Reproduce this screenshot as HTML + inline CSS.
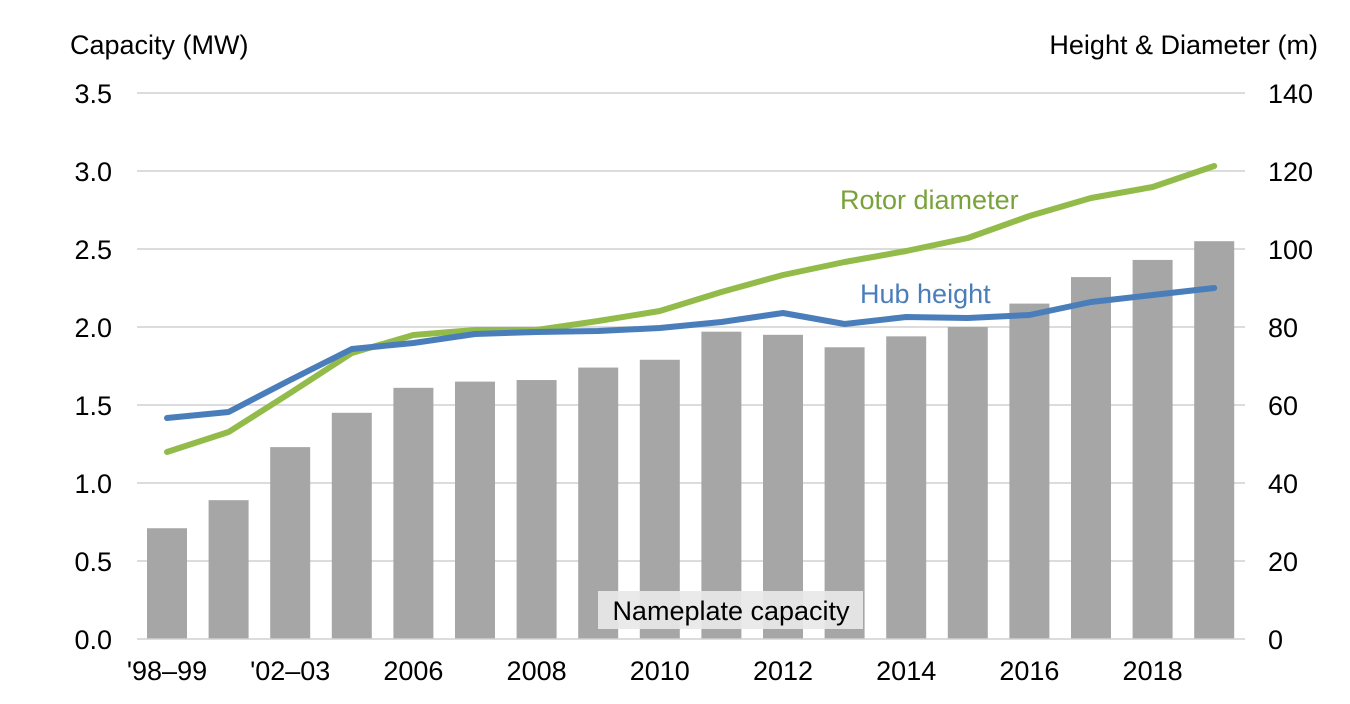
<!DOCTYPE html>
<html><head><meta charset="utf-8"><style>body{margin:0;background:#fff}svg{display:block}text{font-family:"Liberation Sans",Arial,sans-serif}</style></head>
<body>
<svg width="1350" height="704" xmlns="http://www.w3.org/2000/svg">
<g stroke="#d0d0d0" stroke-width="1.5">
<line x1="137" x2="1245" y1="93" y2="93"/><line x1="137" x2="1245" y1="171" y2="171"/><line x1="137" x2="1245" y1="249" y2="249"/><line x1="137" x2="1245" y1="327" y2="327"/><line x1="137" x2="1245" y1="405" y2="405"/><line x1="137" x2="1245" y1="483" y2="483"/><line x1="137" x2="1245" y1="561" y2="561"/>
</g>
<g fill="#a6a6a6" id="bars"></g>
<line x1="137" x2="1245" y1="639" y2="639" stroke="#d0d0d0" stroke-width="1.5"/>
<rect x="598" y="591" width="265" height="38" fill="#e8e8e8" opacity="0.92"/>
<text x="731" y="620" font-size="27" text-anchor="middle" fill="#000">Nameplate capacity</text>
<polyline id="rotor" fill="none" stroke="#92bb4a" stroke-width="6" stroke-linejoin="round" stroke-linecap="round"/>
<polyline id="hub" fill="none" stroke="#4a7ebb" stroke-width="6" stroke-linejoin="round" stroke-linecap="round"/>
<text x="840" y="209" font-size="27" fill="#79a23a">Rotor diameter</text>
<text x="860" y="303" font-size="27" fill="#4a7ebb">Hub height</text>
<g font-size="27" fill="#000" text-anchor="end">
<text x="112" y="103">3.5</text><text x="112" y="181">3.0</text><text x="112" y="259">2.5</text><text x="112" y="337">2.0</text><text x="112" y="415">1.5</text><text x="112" y="493">1.0</text><text x="112" y="571">0.5</text><text x="112" y="649">0.0</text>
</g>
<g font-size="27" fill="#000" text-anchor="start">
<text x="1268" y="103">140</text><text x="1268" y="181">120</text><text x="1268" y="259">100</text><text x="1268" y="337">80</text><text x="1268" y="415">60</text><text x="1268" y="493">40</text><text x="1268" y="571">20</text><text x="1268" y="649">0</text>
</g>
<text x="70" y="54" font-size="27">Capacity (MW)</text>
<text x="1318" y="54" font-size="27" text-anchor="end">Height &amp; Diameter (m)</text>
<g font-size="27" text-anchor="middle" id="xl"></g>
</svg>
<script>
var v=[0.71,0.89,1.23,1.45,1.61,1.65,1.66,1.74,1.79,1.97,1.95,1.87,1.94,2.00,2.15,2.32,2.43,2.55];
var hub=[418,412,380,349,343,334,332,331,328,322,313,324,317,318,315,302,295,288];
var rot=[452,432,393,353,335,330,330,321,311,292,275,262,251,238,216,198,187,166];
var ns="http://www.w3.org/2000/svg",b=document.getElementById('bars'),h=[],r=[];
for(var i=0;i<18;i++){var c=167+61.6*i;var e=document.createElementNS(ns,'rect');var t=639-v[i]*156;
e.setAttribute('x',c-20);e.setAttribute('y',t);e.setAttribute('width',40);e.setAttribute('height',639-t);b.appendChild(e);
h.push(c+','+hub[i]);r.push(c+','+rot[i]);}
document.getElementById('hub').setAttribute('points',h.join(' '));
document.getElementById('rotor').setAttribute('points',r.join(' '));
var L={0:"'98\u201399",2:"'02\u201303",4:"2006",6:"2008",8:"2010",10:"2012",12:"2014",14:"2016",16:"2018"};
var g=document.getElementById('xl');for(var k in L){var tx=document.createElementNS(ns,'text');tx.setAttribute('x',167+61.6*k);tx.setAttribute('y',680);tx.textContent=L[k];g.appendChild(tx);}
</script>
</body></html>
